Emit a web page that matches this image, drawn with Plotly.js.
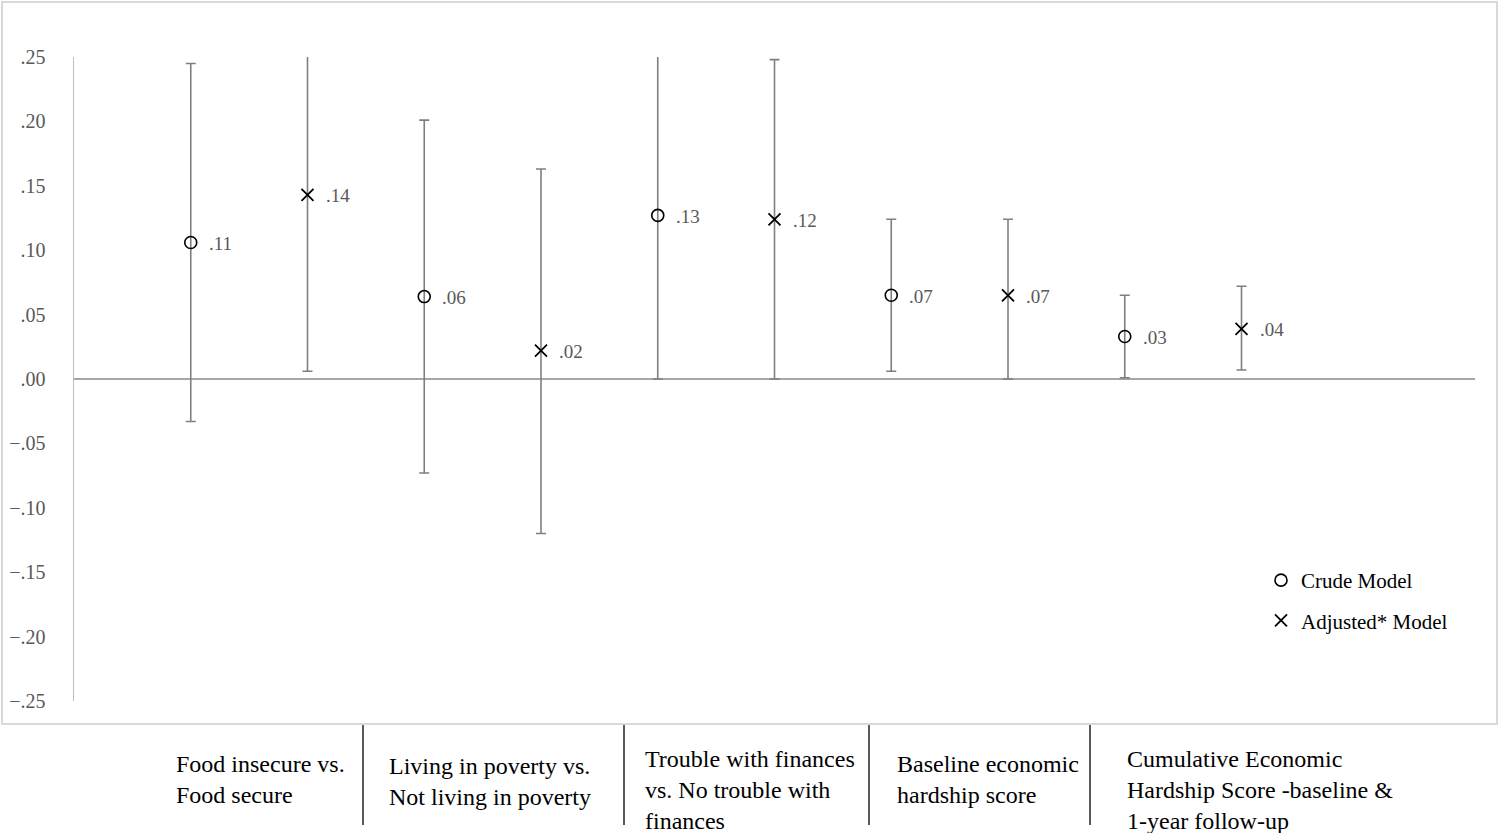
<!DOCTYPE html>
<html>
<head>
<meta charset="utf-8">
<script src="https://cdn.plot.ly/plotly-3.0.1.min.js"></script>
<style>html,body{margin:0;padding:0;background:#fff;}#chart{width:1500px;height:833px;}</style>
</head>
<body>
<div id="chart"></div>
<script>
// ---- data ----
const groupLabels = [
  "Food insecure vs.<br>Food secure",
  "Living in poverty vs.<br>Not living in poverty",
  "Trouble with finances<br>vs. No trouble with<br>finances",
  "Baseline economic<br>hardship score",
  "Cumulative Economic<br>Hardship Score -baseline &amp;<br>1-year follow-up"
];
const crudeEst  = [0.106, 0.064, 0.127, 0.065, 0.033];
const crudeLow  = [-0.033, -0.073, 0.000, 0.006, 0.001];
const crudeHigh = [0.245, 0.201, 0.280, 0.124, 0.065];
const crudeText = [".11", ".06", ".13", ".07", ".03"];
const adjEst    = [0.143, 0.022, 0.124, 0.065, 0.039];
const adjLow    = [0.006, -0.120, 0.000, 0.000, 0.007];
const adjHigh   = [0.280, 0.163, 0.248, 0.124, 0.072];
const adjText   = [".14", ".02", ".12", ".07", ".04"];
const yTickVals = [0.25, 0.20, 0.15, 0.10, 0.05, 0, -0.05, -0.10, -0.15, -0.20, -0.25];
const yTickText = [".25", ".20", ".15", ".10", ".05", ".00", "\u2212.05", "\u2212.10", "\u2212.15", "\u2212.20", "\u2212.25"];

// ---- build ----
const W = 1500, H = 833;
const px = v => v / W, py = v => 1 - v / H;
const crudeX = crudeEst.map((_, i) => 2 * i + 1);
const adjX = adjEst.map((_, i) => 2 * i + 2);
const serif = "Liberation Serif, Times New Roman, serif";
const errStyle = {type: 'data', symmetric: false, color: '#7f7f7f', thickness: 1.6, width: 5};

const traces = [
  {
    x: crudeX, y: crudeEst, type: 'scatter', mode: 'markers', name: 'Crude Model',
    legendgroup: 'a',
    marker: {symbol: 'circle-open', size: 12, color: '#000', line: {color: '#000', width: 1.6}},
    error_y: Object.assign({}, errStyle, {
      array: crudeHigh.map((h, i) => h - crudeEst[i]),
      arrayminus: crudeLow.map((l, i) => crudeEst[i] - l)
    }),
    cliponaxis: true
  },
  {
    x: adjX, y: adjEst, type: 'scatter', mode: 'markers', name: 'Adjusted* Model',
    legendgroup: 'b',
    marker: {symbol: 'x-thin-open', size: 12, color: '#000', line: {color: '#000', width: 1.8}},
    error_y: Object.assign({}, errStyle, {
      array: adjHigh.map((h, i) => h - adjEst[i]),
      arrayminus: adjLow.map((l, i) => adjEst[i] - l)
    }),
    cliponaxis: true
  }
];

const annotations = [];
crudeEst.forEach((v, i) => annotations.push({
  x: crudeX[i], y: v, xref: 'x', yref: 'y', text: crudeText[i], showarrow: false,
  xanchor: 'left', yanchor: 'middle', xshift: 16, yshift: -1,
  font: {family: serif, size: 19, color: '#595959'}
}));
adjEst.forEach((v, i) => annotations.push({
  x: adjX[i], y: v, xref: 'x', yref: 'y', text: adjText[i], showarrow: false,
  xanchor: 'left', yanchor: 'middle', xshift: 16, yshift: -1,
  font: {family: serif, size: 19, color: '#595959'}
}));
const labelX = [174, 387, 643, 895, 1125];
const labelY = [749, 751, 744, 749, 744];
groupLabels.forEach((t, i) => annotations.push({
  x: px(labelX[i]), y: py(labelY[i]), xref: 'paper', yref: 'paper', text: t, showarrow: false,
  xanchor: 'left', yanchor: 'top', align: 'left',
  font: {family: serif, size: 24, color: '#000'}
}));

const shapes = [
  {type: 'rect', xref: 'paper', yref: 'paper', x0: px(2), x1: px(1497), y0: py(724), y1: py(2),
   line: {color: '#d9d9d9', width: 2}, fillcolor: 'rgba(0,0,0,0)', layer: 'below'}
];
[363, 624, 869, 1090].forEach(xx => shapes.push({
  type: 'line', xref: 'paper', yref: 'paper', x0: px(xx), x1: px(xx), y0: py(725), y1: py(825),
  line: {color: '#000', width: 1.3}
}));

const layout = {
  width: W, height: H,
  margin: {l: 0, r: 0, t: 0, b: 0},
  paper_bgcolor: '#fff', plot_bgcolor: 'rgba(0,0,0,0)',
  showlegend: true,
  legend: {
    x: px(1261), y: py(560), xanchor: 'left', yanchor: 'top',
    font: {family: serif, size: 21, color: '#000'},
    bgcolor: 'rgba(0,0,0,0)', itemwidth: 30,
    traceorder: 'grouped', tracegroupgap: 10
  },
  xaxis: {
    domain: [px(74), px(1475)], range: [0, 12],
    showgrid: false, zeroline: false, showline: false, showticklabels: false, ticks: ''
  },
  yaxis: {
    domain: [py(701), py(57)], range: [-0.25, 0.25],
    tickvals: yTickVals, ticktext: yTickText,
    showgrid: false, zeroline: true, zerolinecolor: '#a6a6a6', zerolinewidth: 1.5,
    showline: true, linecolor: '#bfbfbf', linewidth: 1.5,
    ticks: '', ticklabelstandoff: 23,
    tickfont: {family: serif, size: 20, color: '#595959'}
  },
  annotations: annotations,
  shapes: shapes
};

Plotly.newPlot('chart', traces, layout, {displayModeBar: false, staticPlot: true});
</script>
</body>
</html>
